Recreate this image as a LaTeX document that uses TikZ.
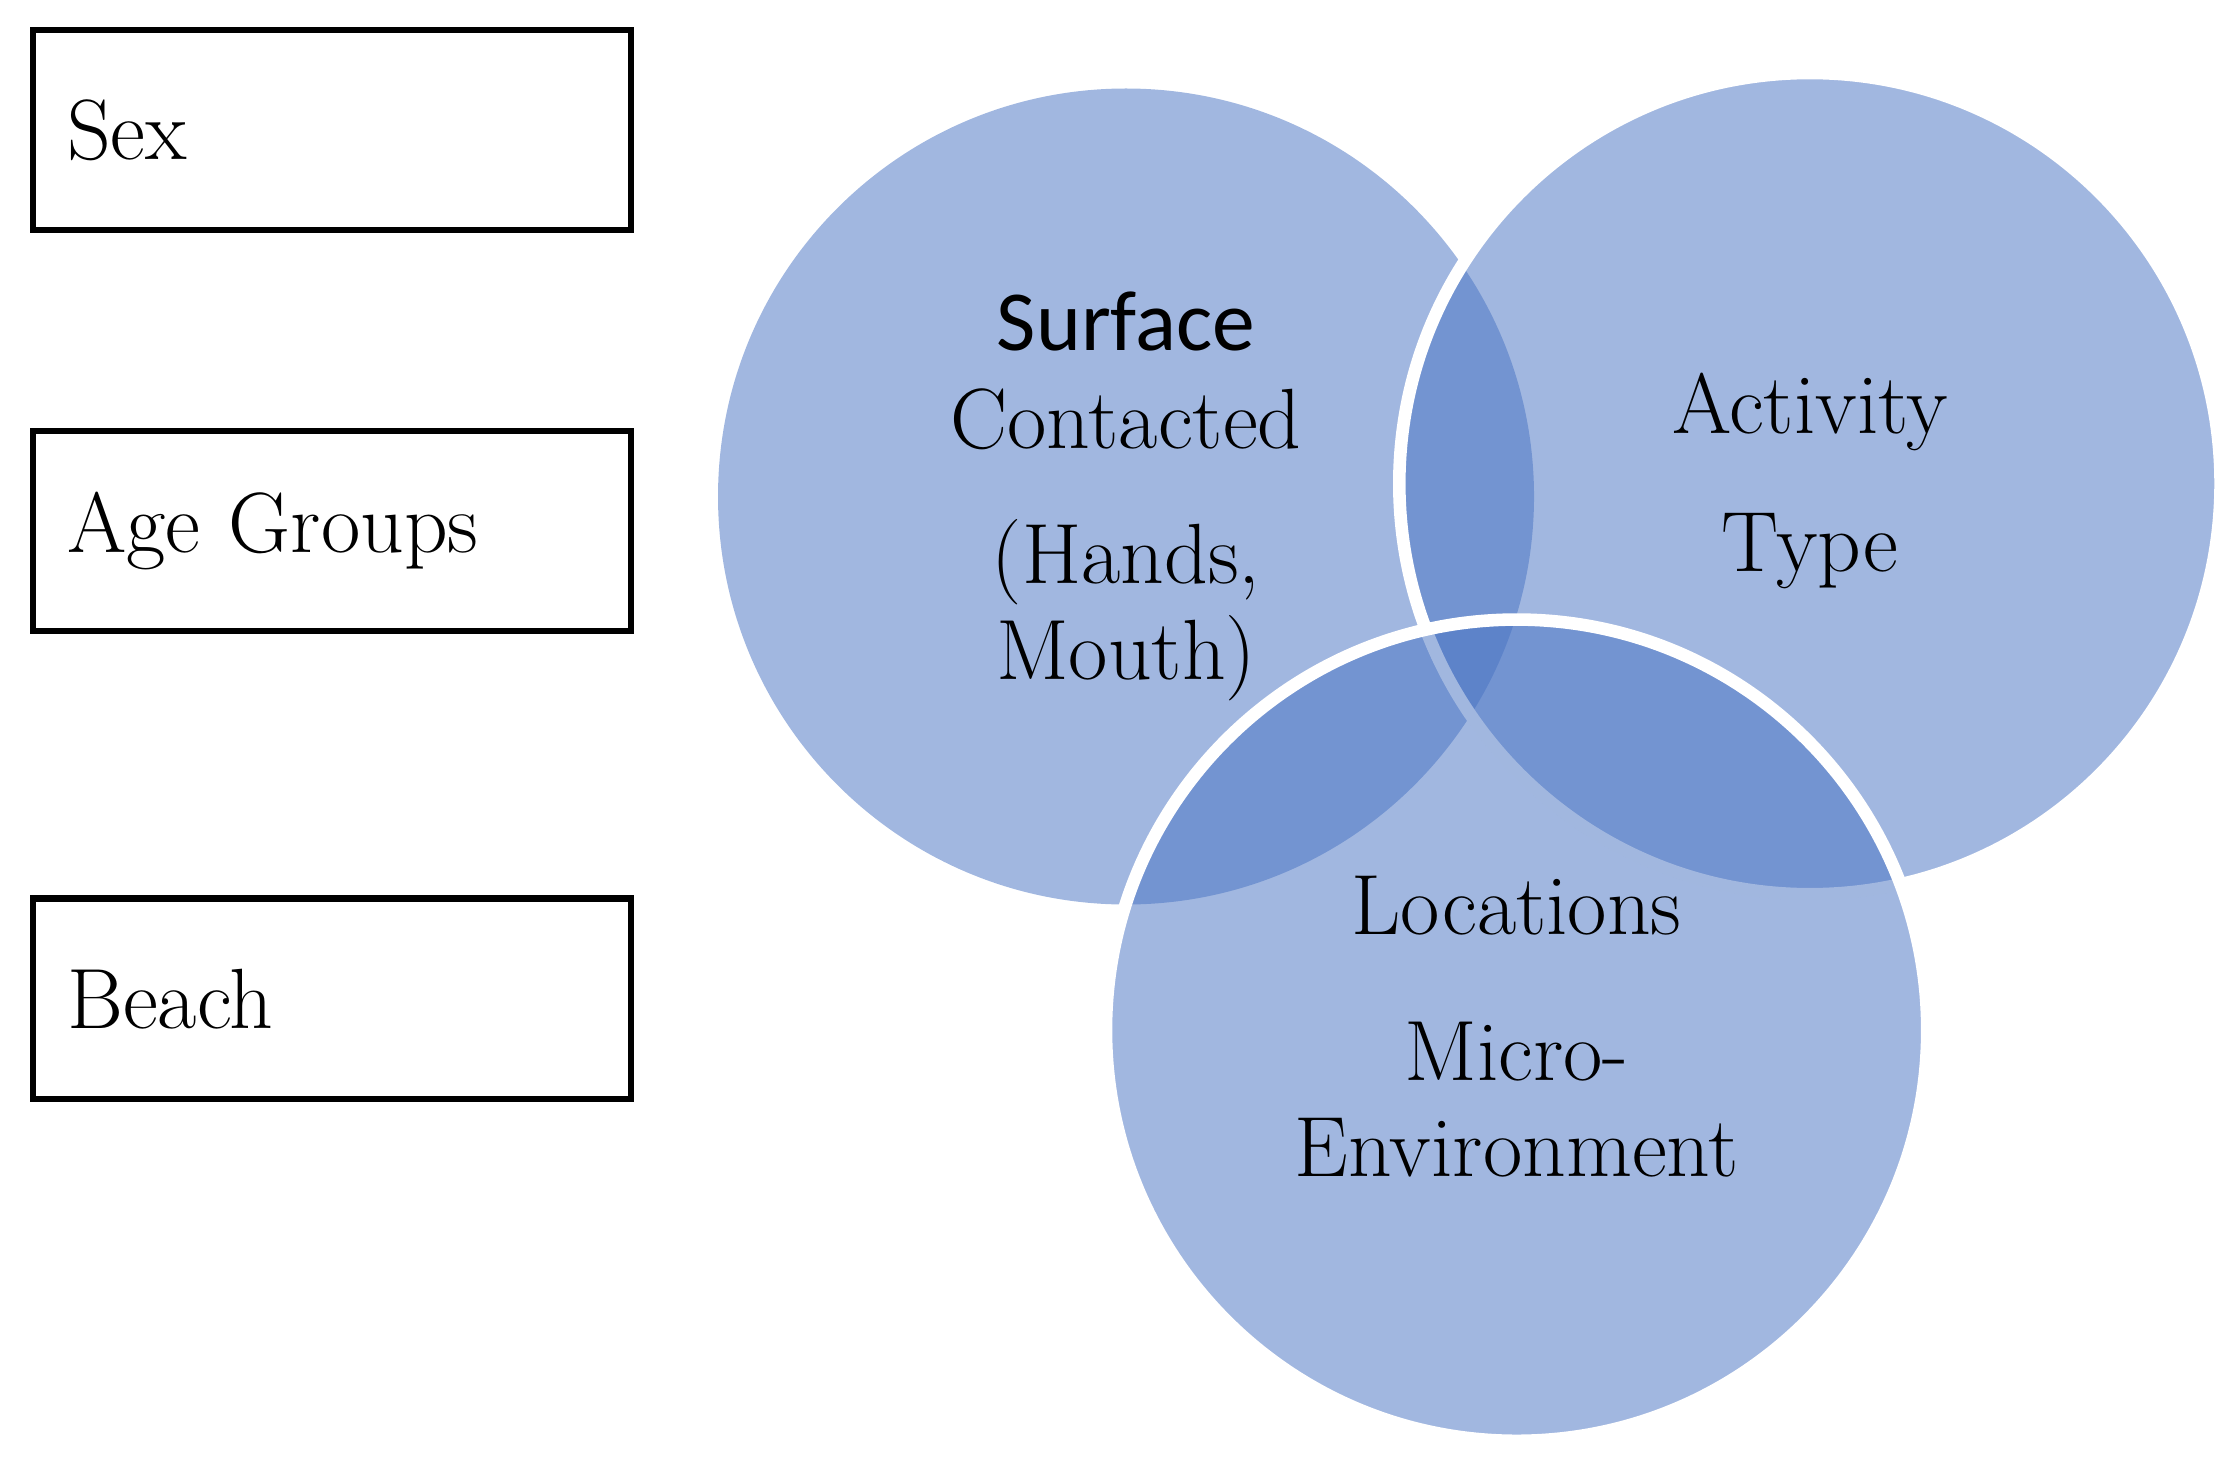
\documentclass[tikz,border=0pt]{standalone}
\usepackage{fontspec}
\newfontfamily\carl{Carlito}
\begin{document}
\begin{tikzpicture}[x=0.01cm,y=-0.01cm,
  box/.style={draw=black,line width=1.2pt,minimum width=4.18cm,minimum height=1.40cm,text width=3.7cm,align=left,inner sep=0pt,font=\fontsize{17}{20}\selectfont},
  venn/.style={fill={rgb,255:red,71;green,114;blue,194},fill opacity=0.51,circle,minimum size=5.7cm,inner sep=0pt},
  lbl/.style={font=\fontsize{17}{20}\selectfont,align=center}]
\definecolor{vc}{RGB}{71,114,194}
\useasboundingbox (0,0) rectangle (1560,1020);
\node[box] (sex) at (232,91) {Sex};
\node[box] (age) at (232,371) {Age Groups};
\node[box] (beach) at (232,698) {Beach};
\node[venn] (c1) at (787,347) {};
\node[venn] (c2) at (1265,338) {};
\draw[white,line width=2.5pt] (1265,338) circle[radius=287];
\node[venn] (c3) at (1060,720) {};
\draw[white,line width=2.5pt] (1060,720) circle[radius=287];
\node[lbl,font=\carl\fontsize{17}{20}\selectfont] (s1) at (787,225) {Surface};
\node[lbl] (s2) at (787,293) {Contacted};
\node[lbl] (s3) at (787,393) {(Hands,};
\node[lbl] (s4) at (787,460) {Mouth)};
\node[lbl] (a1) at (1265,288) {Activity};
\node[lbl] (a2) at (1265,385) {Type};
\node[lbl] (l1) at (1060,633) {Locations};
\node[lbl] (l2) at (1060,735) {Micro-};
\node[lbl] (l3) at (1060,802) {Environment};
\end{tikzpicture}
\end{document}
